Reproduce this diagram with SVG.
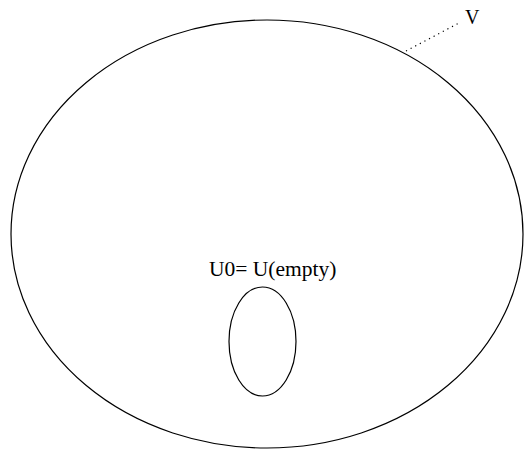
<svg xmlns="http://www.w3.org/2000/svg" width="524" height="451" viewBox="0 0 524 451">
<style>
.shape{fill:none;stroke:#000;stroke-width:1.2}
.lbl{font-family:"Liberation Serif","Times New Roman",serif;fill:#000}
.dot{stroke:#000;stroke-width:1.2;stroke-dasharray:1.2 4;fill:none}
</style>
<rect width="524" height="451" fill="#fff"/>
<g id="V">
<ellipse class="shape" cx="267" cy="234" rx="256" ry="214"/>
<text class="lbl" x="465" y="24" font-size="20">V</text>
</g>
<g id="U0">
<ellipse class="shape" cx="262.5" cy="341.5" rx="33.5" ry="54.5"/>
<text class="lbl" x="209" y="276" font-size="21.5">U0= U(empty)</text>
</g>
<g id="connectors">
<line class="dot" x1="406" y1="51" x2="459" y2="23"/>
</g>
</svg>
